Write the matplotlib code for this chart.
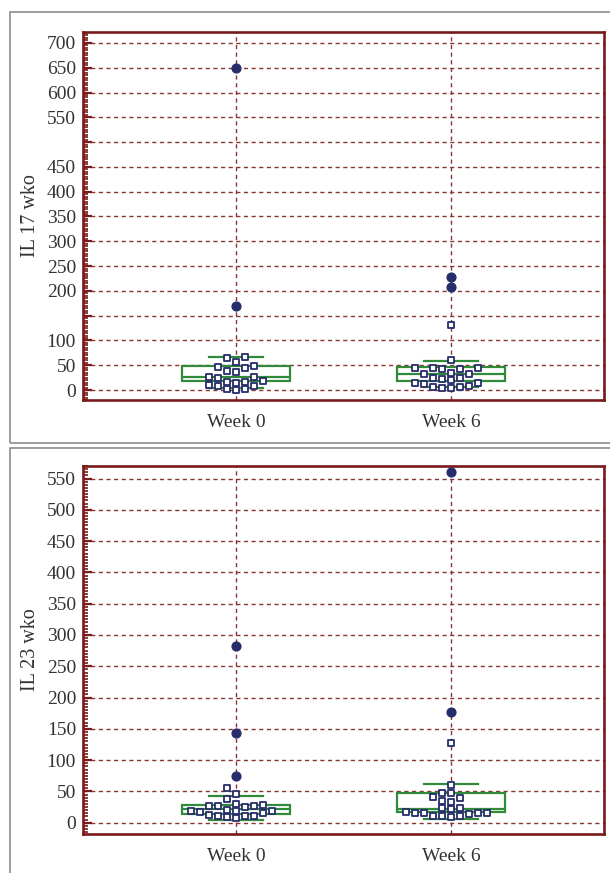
import numpy as np
import matplotlib.pyplot as plt
from matplotlib.patches import Rectangle
from matplotlib.ticker import MultipleLocator, FixedLocator, FixedFormatter

plt.rcParams['font.family'] = ['Liberation Serif', 'DejaVu Serif']

groups = ['Week 0', 'Week 6']

# IL 17 panel
il17_w0 = [66, 64, 56, 48, 47, 45, 38, 36, 27, 26, 25, 18, 17, 16, 15, 10, 9, 8, 3, 2, 1]
il17_w6 = [131, 60, 45, 44, 44, 43, 42, 35, 33, 32, 25, 24, 22, 21, 15, 14, 12, 8, 7, 6, 5, 5]
il17_out_w0 = [650, 170]
il17_out_w6 = [228, 208]
il17_q1 = [18, 18]
il17_med = [26, 32]
il17_q3 = [48, 46]
il17_lo = [4, 6]
il17_hi = [67, 58]

# IL 23 panel
il23_w0 = [56, 46, 38, 30, 28, 27, 27, 26, 25, 20, 19, 18, 18, 17, 16, 12, 11, 10, 10, 9, 8]
il23_w6 = [128, 61, 48, 47, 41, 40, 34, 33, 24, 23, 22, 17, 16, 16, 15, 15, 14, 11, 10, 10, 9]
il23_out_w0 = [283, 143, 75]
il23_out_w6 = [560, 177]
il23_q1 = [14, 17]
il23_med = [22, 22]
il23_q3 = [29, 48]
il23_lo = [5, 6]
il23_hi = [42, 62]

RED = '#7a1a1a'
GRID = '#8a3434'
GREEN = '#2f8a3a'
NAVY = '#272c6b'


def swarm(ax, x0, values, step=9.0, vgap=6.5):
    # greedy beeswarm in pixel space
    placed = []
    res = [0.0] * len(values)
    cands = sorted(np.arange(-12, 13) * step / 2, key=lambda c: (abs(c), c))
    for i in np.argsort(values):
        ypx = ax.transData.transform((x0, values[i]))[1]
        for c in cands:
            if all(abs(c - px) >= step or abs(ypx - py) >= vgap for px, py in placed):
                break
        placed.append((c, ypx))
        res[i] = c
    x0px = ax.transData.transform((x0, 0))[0]
    inv = ax.transData.inverted()
    return [inv.transform((x0px + c, 0))[0] for c in res]


def panel(ax, ylabel, ylim, ymax, hidden, sq, outs, q1, med, q3, lo, hi):
    stats = []
    for i in range(2):
        stats.append({'q1': q1[i], 'med': med[i], 'q3': q3[i],
                      'whislo': lo[i], 'whishi': hi[i], 'fliers': []})
    ax.bxp(stats, positions=[1, 2], widths=0.5, capwidths=0.25, showfliers=False,
           patch_artist=True, manage_ticks=False,
           boxprops=dict(facecolor='white', edgecolor=GREEN, linewidth=1.6),
           medianprops=dict(color=GREEN, linewidth=1.6),
           capprops=dict(color=GREEN, linewidth=1.6),
           whiskerprops=dict(linewidth=0), zorder=2)

    ax.set_xlim(0.288, 2.711)
    ax.set_ylim(*ylim)
    major = list(range(0, ymax + 1, 50))
    ax.yaxis.set_major_locator(FixedLocator(major))
    ax.yaxis.set_major_formatter(FixedFormatter(['' if v in hidden else str(v) for v in major]))
    ax.yaxis.set_minor_locator(MultipleLocator(5))
    ax.set_xticks([1, 2])
    ax.set_xticklabels(groups)
    for v in major:
        ax.axhline(v, color=GRID, lw=1, dashes=(3, 2.5), zorder=1)
    for x in [1, 2]:
        ax.axvline(x, color=GRID, lw=1, dashes=(3, 2.5), zorder=1)
    for s in ax.spines.values():
        s.set_color(RED)
        s.set_linewidth(1.9)
    ax.tick_params(axis='y', which='major', direction='in', length=6.5, width=1.6,
                   color=RED, labelsize=14, labelcolor='#333333', pad=5)
    ax.tick_params(axis='y', which='minor', direction='in', length=3.8, width=1.2, color=RED)
    ax.tick_params(axis='x', length=0, labelsize=14, labelcolor='#333333', pad=10)
    ax.set_ylabel(ylabel, fontsize=14.5, color='#333333')

    for i, vals in enumerate(sq):
        xs = swarm(ax, i + 1, vals)
        ax.scatter(xs, vals, marker='s', s=22, facecolor='white', edgecolor=NAVY,
                   linewidth=1.3, zorder=4, clip_on=False)
    for i, vals in enumerate(outs):
        ax.scatter([i + 1] * len(vals), vals, marker='o', s=40, color=NAVY, zorder=5,
                   clip_on=False)


fig = plt.figure(figsize=(6.1, 8.73), dpi=100)
H = 873.0
W = 610.0

for top, bot in [(12, 443), (448, 880)]:
    fig.patches.append(Rectangle((10 / W, (H - bot) / H), 1.0, (bot - top) / H,
                                 transform=fig.transFigure, fill=False,
                                 edgecolor='#8c8c8c', linewidth=1.2))

ax1 = fig.add_axes([83 / W, (H - 400) / H, 521 / W, 368 / H])
ax2 = fig.add_axes([83 / W, (H - 834) / H, 521 / W, 368 / H])

panel(ax1, 'IL 17 wko', (-20, 722), 700, [150, 500],
      [il17_w0, il17_w6], [il17_out_w0, il17_out_w6],
      il17_q1, il17_med, il17_q3, il17_lo, il17_hi)
panel(ax2, 'IL 23 wko', (-18, 570), 550, [],
      [il23_w0, il23_w6], [il23_out_w0, il23_out_w6],
      il23_q1, il23_med, il23_q3, il23_lo, il23_hi)

ax1.yaxis.set_label_coords(-0.082, 0.5)
ax2.yaxis.set_label_coords(-0.082, 0.5)

fig.savefig('out.png', dpi=100)
